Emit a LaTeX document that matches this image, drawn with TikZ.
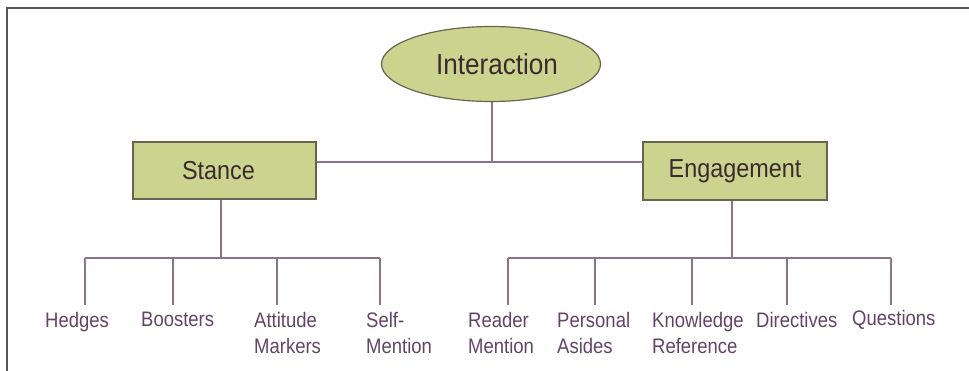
\documentclass[tikz,border=0pt]{standalone}
\usepackage{fontspec}
\usetikzlibrary{shapes.geometric}
\newfontfamily\boxfont[FakeStretch=0.9]{Liberation Sans}
\newfontfamily\labfont[FakeStretch=0.88]{Liberation Sans}
\definecolor{boxfill}{RGB}{203,212,143}
\definecolor{boxline}{RGB}{105,100,80}
\definecolor{textdark}{RGB}{58,42,45}
\definecolor{labcol}{RGB}{98,68,102}
\definecolor{linecol}{RGB}{140,115,135}
\definecolor{framecol}{RGB}{85,85,85}
\tikzset{
  catbox/.style={draw=boxline, line width=1.2pt, fill=boxfill, rectangle, inner sep=0pt,
    text=textdark, font=\boxfont\fontsize{26}{30}\selectfont},
  rootell/.style={draw=boxline, line width=1.2pt, fill=boxfill, ellipse, inner sep=0pt,
    text=textdark, font=\boxfont\fontsize{29}{33}\selectfont,
    minimum width=219pt, minimum height=75pt},
  leaf/.style={anchor=north west, inner sep=0pt, align=left, text=labcol,
    font=\labfont\fontsize{21}{26.5}\selectfont},
  conn/.style={draw=linecol, line width=1.3pt},
}
\begin{document}
\begin{tikzpicture}[x=1pt,y=-1pt]
\useasboundingbox (0,0) rectangle (969,370);
% frame (cut at right and bottom)
\draw[framecol, line width=2pt] (7,372) -- (7,8) -- (972,8);

% main nodes
\node[rootell] (inter) at (491,64) {\hspace*{12pt}Interaction};
\node[catbox, minimum width=183pt, minimum height=57pt] (stance) at (224.5,170.5) {Stance\hspace*{12pt}};
\node[catbox, minimum width=184pt, minimum height=58pt] (eng) at (735,171) {Engagement};

% hub
\coordinate (hub) at (492,162);
\draw[conn] (inter.south -| hub) -- (hub);
\draw[conn] (stance.east |- hub) -- (eng.west |- hub);

% stance branch
\coordinate (sbus) at (221,258);
\coordinate (s1) at (85,305);
\coordinate (s2) at (173,305);
\coordinate (s3) at (277,305);
\coordinate (s4) at (380,305);
\draw[conn] (stance.south -| sbus) -- (sbus);
\draw[conn] (s1 |- sbus) -- (s4 |- sbus);
\foreach \c in {s1,s2,s3,s4} \draw[conn] (\c |- sbus) -- (\c);

\node[leaf] (hedges) at (45,312) {Hedges};
\node[leaf] (boosters) at (141,312) {Boosters};
\node[leaf] (attitude) at (254,312) {Attitude\\Markers};
\node[leaf] (self) at (366,312) {Self-\\Mention};

% engagement branch
\coordinate (ebus) at (732,258);
\coordinate (e1) at (508,305);
\coordinate (e2) at (595,305);
\coordinate (e3) at (692,305);
\coordinate (e4) at (787,305);
\coordinate (e5) at (891,305);
\draw[conn] (eng.south -| ebus) -- (ebus);
\draw[conn] (e1 |- ebus) -- (e5 |- ebus);
\foreach \c in {e1,e2,e3,e4,e5} \draw[conn] (\c |- ebus) -- (\c);

\node[leaf] (reader) at (468,312) {Reader\\Mention};
\node[leaf] (personal) at (557,312) {Personal\\Asides};
\node[leaf] (knowledge) at (652,312) {Knowledge\\Reference};
\node[leaf] (directives) at (756,312) {Directives};
\node[leaf] (questions) at (852,310) {Questions};
\end{tikzpicture}
\end{document}
